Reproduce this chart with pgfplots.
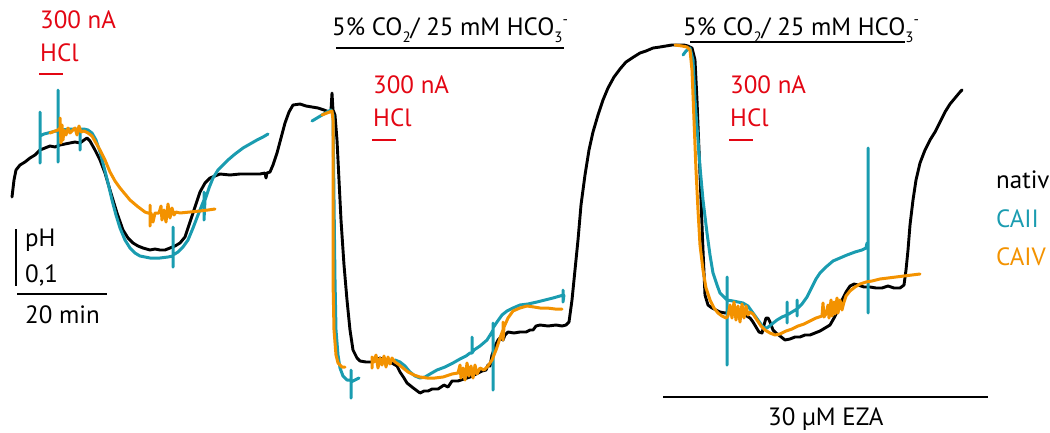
\documentclass[border=0pt]{standalone}
\usepackage{pgfplots}
\pgfplotsset{compat=1.18}
\usepackage{fontspec}
\setmainfont{PT Sans}
\definecolor{cteal}{HTML}{1A9CB0}
\definecolor{corange}{HTML}{F39200}
\definecolor{cred}{HTML}{E30613}
\newcommand\fs{\fontsize{25pt}{30pt}\selectfont}
\newcommand\sm{\fontsize{15pt}{15pt}\selectfont}
\begin{document}
\begin{tikzpicture}
\begin{axis}[scale only axis, width=1050pt, height=432pt,
  xmin=0, xmax=1050, ymin=0, ymax=432, y dir=reverse,
  hide axis, clip=false, every axis plot/.append style={line join=round, line cap=round}]
% nativ
\addplot[black, line width=2.9pt] coordinates {
(12,197)(14,180)(16,170)(20,165)(25,162)(30,158)(35,155)(40,150)(45,148)(50,146)(55,147)(60,145)(65,144)(70,143)(75,142)(80,143)(84,140)(87,138)(90,141)(95,150)(100,160)(105,173)(110,190)(117,213)(123,230)(128,238)(133,243)(138,246)(143,248)(150,250)(155,249)(160,250)(165,250)(170,248)(175,246)(180,243)(185,237)(190,222)(195,207)(200,192)(205,183)(210,178)(215,176)(220,174)(230,175)(240,174)(250,174)(260,174)(265,173)(266,178)(267,173)(270,172)(273,165)(277,153)(281,138)(285,123)(289,112)(293,105)(300,104)(306,106)(312,107)(318,108)(324,110)(329,112)(331,110)(332,93)(333,110)(335,115)(337,140)(339,180)(341,220)(344,265)(347,300)(350,330)(353,350)(357,358)(360,361)(366,362)(372,362)(376,360)(380,358)(384,360)(390,362)(397,366)(400,372)(404,378)(407,383)(412,387)(416,390)(420,393)(424,391)(428,391)(432,389)(438,389)(444,385)(448,387)(452,381)(458,381)(464,379)(470,377)(476,374)(482,371)(486,370)(488,365)(490,366)(492,355)(494,350)(496,344)(498,340)(500,338)(503,340)(505,335)(508,332)(514,333)(520,332)(526,332)(530,330)(533,330)(536,326)(540,325)(548,326)(556,325)(562,326)(566,325)(569,322)(572,300)(575,270)(578,240)(581,205)(585,175)(589,150)(593,132)(598,115)(603,100)(608,88)(614,77)(620,69)(626,62)(632,58)(640,53)(646,51)(653,48)(660,47)(666,46)(672,45)(678,45)(684,45)(688,46)(692,48)(695,60)(697,100)(699,150)(701,200)(703,250)(705,295)(708,305)(712,308)(716,310)(720,312)(725,313)(730,312)(735,310)(740,313)(745,315)(750,318)(753,322)(756,327)(759,332)(762,333)(764,325)(766,318)(768,318)(770,322)(773,330)(776,333)(780,336)(785,340)(790,339)(795,337)(800,337)(805,335)(810,335)(815,333)(820,331)(825,328)(830,325)(834,318)(838,310)(842,300)(846,292)(850,286)(854,284)(858,285)(864,287)(870,287)(876,288)(882,288)(888,286)(894,288)(900,288)(904,285)(906,270)(908,250)(910,225)(913,200)(916,180)(920,163)(925,150)(930,140)(935,132)(940,122)(945,112)(950,104)(955,98)(960,92)(962,90)
};
% CAII
\addplot[cteal, line width=3pt] coordinates {
(40,163)(40,112)(40,136)(44,134)(48,133)(52,132)(56,131)(58,131)(58,90)(58,162)(58,131)(62,130)(70,129)(78,129)(80,129)(80,150)(80,129)(84,129)(88,130)(92,133)(96,140)(100,152)(104,167)(108,183)(112,200)(116,215)(120,228)(125,240)(130,248)(135,253)(140,256)(145,257)(150,258)(160,258)(168,257)(173,256)(173,227)(173,267)(173,255)(178,252)(183,247)(188,240)(193,228)(198,215)(202,205)(204,200)(204,192)(204,220)(205,200)(209,188)(213,178)(218,170)(223,165)(228,160)(235,154)(243,148)(250,144)(257,140)(263,137)(268,134)
};
\addplot[cteal, line width=3pt] coordinates {
(312,121)(317,118)(322,115)(327,112)(331,110)(333,115)(334,200)(335,280)(336,330)(338,355)(340,368)(343,376)(347,380)(351,380)(351,370)(351,398)(351,382)(355,380)(359,378)
};
\addplot[cteal, line width=3pt] coordinates {
(395,360)(400,362)(405,366)(410,372)(415,376)(420,378)(425,377)(430,374)(437,370)(445,367)(453,363)(460,359)(466,356)(470,353)(472,353)(472,337)(472,353)(474,350)(480,346)(487,340)(492,332)(493,330)(493,323)(493,390)(493,328)(497,322)(502,315)(507,311)(513,308)(520,305)(528,304)(537,302)(545,300)(553,298)(560,296)(563,295)(563,290)(563,302)(564,295)
};
\addplot[cteal, line width=3pt] coordinates {
(683,55)(686,51)(690,48)(693,60)(695,100)(698,140)(700,167)(703,200)(707,233)(710,255)(713,273)(717,285)(720,293)(725,298)(727,300)(727,277)(727,365)(727,300)(733,301)(738,302)(743,303)(748,306)(753,313)(758,320)(763,327)(767,328)(772,324)(777,320)(782,317)(787,315)(787,302)(787,323)(787,315)(792,312)(797,309)(797,300)(797,316)(797,309)(802,304)(807,297)(812,287)(816,279)(820,273)(826,267)(833,261)(840,258)(847,255)(855,252)(862,250)(866,248)(867,243)(868,248)(868,148)(868,313)
};
% CAIV
\addplot[corange, line width=3pt] coordinates {
(50,133)(55,131)(58,130)(60,128)(60,118)(61,143)(62,125)(63,140)(64,130)(66,135)(68,128)(70,133)(73,130)(75,128)(77,135)(79,126)(81,132)(84,131)(88,133)(92,136)(96,143)(100,150)(105,160)(110,172)(115,181)(120,188)(125,194)(130,200)(137,206)(145,212)(148,213)(150,213)(150,205)(150,226)(151,213)(153,222)(155,213)(159,213)(161,206)(162,220)(164,210)(166,222)(168,204)(170,218)(172,208)(174,215)(176,212)(180,213)(190,212)(200,211)(208,210)(215,209)
};
\addplot[corange, line width=3pt] coordinates {
(322,115)(327,113)(332,111)(333,120)(333,200)(333,280)(334,330)(336,355)(338,363)(342,367)(345,367)
};
\addplot[corange, line width=3pt] coordinates {
(372,368)(372,357)(374,362)(376,355)(378,368)(380,358)(382,365)(384,356)(386,367)(388,357)(390,364)(392,358)(395,362)(398,364)(403,368)(408,372)(414,375)(420,377)(427,378)(435,378)(443,377)(452,374)(458,373)(460,365)(461,378)(463,368)(465,380)(467,363)(469,376)(471,366)(473,378)(475,365)(477,374)(480,368)(484,370)(488,366)(492,360)(496,350)(500,338)(503,330)(503,322)(503,340)(504,327)(508,318)(513,311)(520,308)(527,306)(534,307)(540,308)(547,308)(555,309)(562,309)
};
\addplot[corange, line width=3pt] coordinates {
(675,45)(682,46)(687,47)(690,50)(692,70)(694,120)(696,170)(698,210)(700,245)(703,270)(706,288)(710,300)(714,308)(718,313)(722,316)(726,318)(728,316)(730,305)(732,318)(734,302)(736,320)(738,306)(740,322)(742,304)(744,318)(746,306)(748,315)(750,312)(753,314)(757,320)(761,326)(765,330)(770,333)(775,335)(780,334)(786,331)(792,329)(798,326)(804,324)(810,321)(816,318)(822,316)(823,303)(824,317)(826,314)(828,305)(829,318)(831,300)(832,316)(834,302)(835,314)(837,298)(838,313)(840,300)(842,310)(844,302)(846,296)(850,291)(855,287)(860,284)(866,282)(872,281)(880,279)(888,278)(896,277)(904,276)(912,275)(920,274)
};
% annotations
\node[anchor=base west, text=cred, font=\fs, inner sep=0pt] at (axis cs:40,28) {300 nA};
\node[anchor=base west, text=cred, font=\fs, inner sep=0pt] at (axis cs:40,61) {HCl};
\draw[cred, line width=2.8pt] (axis cs:39,74) -- (axis cs:63,74);
\node[anchor=base west, text=cred, font=\fs, inner sep=0pt] at (axis cs:373,93) {300 nA};
\node[anchor=base west, text=cred, font=\fs, inner sep=0pt] at (axis cs:373,126) {HCl};
\draw[cred, line width=2.8pt] (axis cs:372,140) -- (axis cs:396,140);
\node[anchor=base west, text=cred, font=\fs, inner sep=0pt] at (axis cs:730,93) {300 nA};
\node[anchor=base west, text=cred, font=\fs, inner sep=0pt] at (axis cs:730,126) {HCl};
\draw[cred, line width=2.8pt] (axis cs:729,140) -- (axis cs:753,140);
\node[anchor=base west, font=\fs, inner sep=0pt] at (axis cs:332,35) {5\% CO\raisebox{-7pt}{\sm 2}/ 25 mM HCO\raisebox{-7pt}{\sm 3}\raisebox{11pt}{\sm -}};
\draw[black, line width=2.4pt] (axis cs:336,48) -- (axis cs:564,48);
\node[anchor=base west, font=\fs, inner sep=0pt] at (axis cs:683,35) {5\% CO\raisebox{-7pt}{\sm 2}/ 25 mM HCO\raisebox{-7pt}{\sm 3}\raisebox{11pt}{\sm -}};
\draw[black, line width=2.4pt] (axis cs:690,42) -- (axis cs:905,42);
\node[anchor=base west, font=\fs, inner sep=0pt] at (axis cs:996,188) {nativ};
\node[anchor=base west, font=\fs, text=cteal, inner sep=0pt] at (axis cs:996,227) {CAII};
\node[anchor=base west, font=\fs, text=corange, inner sep=0pt] at (axis cs:996,265) {CAIV};
\draw[black, line width=2.4pt] (axis cs:16,229) -- (axis cs:16,286);
\node[anchor=base west, font=\fs, inner sep=0pt] at (axis cs:25,246) {pH};
\node[anchor=base west, font=\fs, inner sep=0pt] at (axis cs:25,282) {0,1};
\draw[black, line width=2.4pt] (axis cs:17,294) -- (axis cs:107,294);
\node[anchor=base west, font=\fs, inner sep=0pt] at (axis cs:25,323) {20 min};
\draw[black, line width=2.4pt] (axis cs:663,397) -- (axis cs:988,397);
\node[anchor=base west, font=\fs, inner sep=0pt] at (axis cs:768,425) {30 µM EZA};
\end{axis}
\pgfresetboundingbox
\path (current axis.south west) rectangle (current axis.north east);
\end{tikzpicture}
\end{document}
